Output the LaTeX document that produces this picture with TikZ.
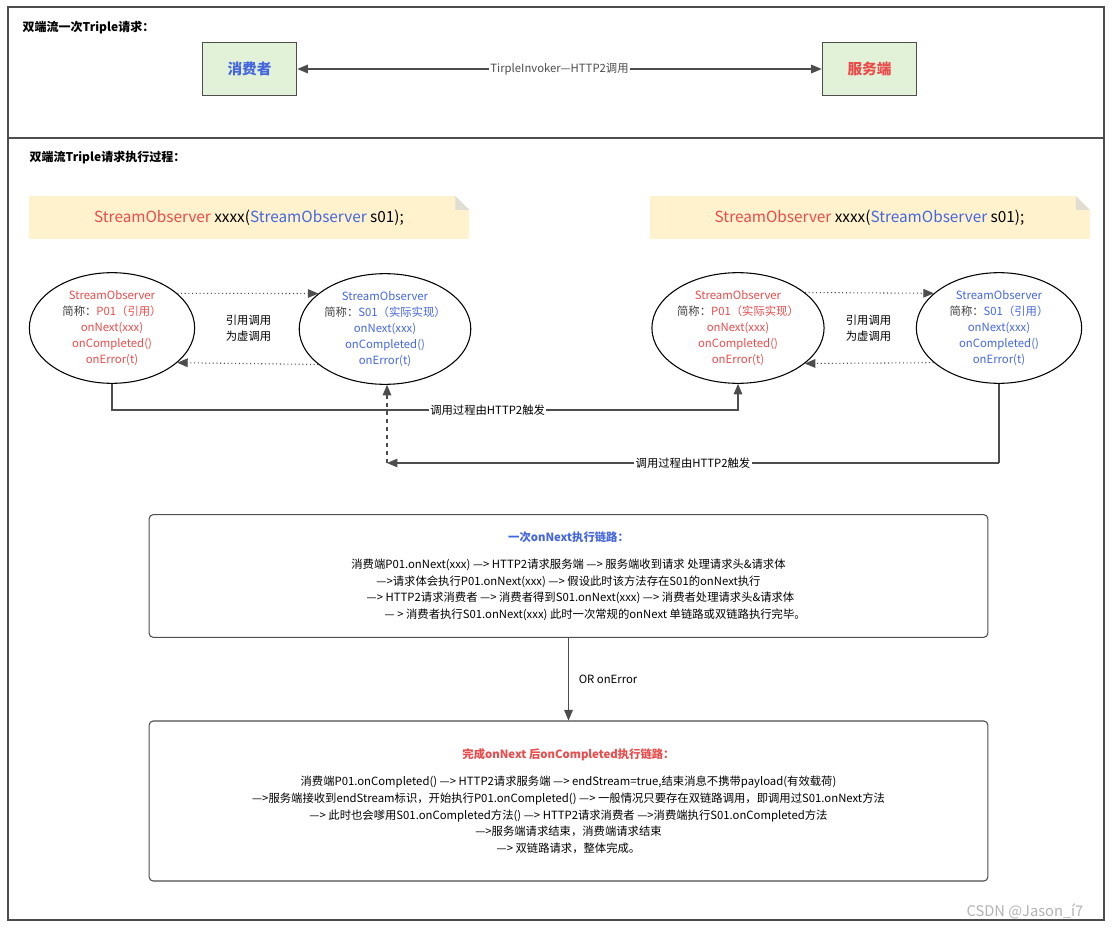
\documentclass[tikz,border=0pt]{standalone}
\usepackage{fontspec}
\setmainfont{Noto Sans CJK SC}
\usetikzlibrary{positioning,shapes,arrows,calc}
\definecolor{redtxt}{HTML}{EA4B4B}
\definecolor{bluetxt}{HTML}{4466E0}
\definecolor{linegray}{HTML}{4D4D4D}
\definecolor{notefill}{HTML}{FFF2CC}
\definecolor{greenfill}{HTML}{E2F2D8}
\tikzset{
  party/.style={
    % the boxes at the top
    rectangle, draw=linegray, fill=greenfill, thick,
    minimum width=71pt, minimum height=40pt, font=\bfseries\fontsize{11}{13}\selectfont},
  note/.style={
    shape=rectangle, fill=notefill, minimum width=330pt, minimum height=32pt,
    font=\fontsize{11.5}{13}\selectfont},
  observer/.style={
    ellipse, draw=black, thick, minimum width=124pt, minimum height=83pt,
    align=center, inner sep=0pt, font=\fontsize{8.5}{12}\selectfont},
  chain/.style={
    rectangle, rounded corners=3pt, draw=linegray, thick,
    minimum width=629pt, align=center, font=\fontsize{8.5}{12.5}\selectfont},
  lbl/.style={fill=white, inner sep=1pt, font=\fontsize{8.5}{11}\selectfont},
  flow/.style={draw=linegray, thick, -triangle 45}
}
\begin{document}
\begin{tikzpicture}[x=0.75pt,y=-0.75pt]
  \useasboundingbox (0,0) rectangle (1115,932);
  % frames
  \draw[linegray, thick] (8,7) rectangle (1104,920);
  \draw[linegray, thick] (8,138) -- (1104,138);
  \node[anchor=west, font=\bfseries\fontsize{9}{11}\selectfont] (title1) at (18,28) {双端流一次Triple请求：};
  \node[anchor=west, font=\bfseries\fontsize{9}{11}\selectfont] (title2) at (25,158) {双端流Triple请求执行过程：};

  % top part
  \node[party, text=bluetxt] (consumer) at (249.5,69) {消费者};
  \node[party, text=redtxt] (provider) at (869.5,69) {服务端};
  \draw[linegray, thick, triangle 45-triangle 45] (consumer) -- node[lbl] {TirpleInvoker---HTTP2调用} (provider);

  % notes
  \node[note] (noteL) at (249,217.5) {\textcolor{redtxt}{StreamObserver} xxxx(\textcolor{bluetxt}{StreamObserver} s01);};
  \node[note] (noteR) at (869.5,217.5) {\textcolor{redtxt}{StreamObserver} xxxx(\textcolor{bluetxt}{StreamObserver} s01);};
  \foreach \n in {noteL,noteR}
    \fill[white] (\n.north east) -- ++(-14,0) -- ++(14,14) -- cycle;
  \foreach \n in {noteL,noteR}
    \fill[notefill!70!black!40] (\n.north east) ++(-14,0) -- ++(0,14) -- ++(14,0) -- cycle;

  % observers
  \node[observer, text=redtxt] (p01L) at (112,328)
    {StreamObserver\\\textcolor{black!75}{简称：}P01（引用）\\onNext(xxx)\\onCompleted()\\onError(t)};
  \node[observer, text=bluetxt] (s01L) at (385,329)
    {StreamObserver\\\textcolor{black!75}{简称：}S01（实际实现）\\onNext(xxx)\\onCompleted()\\onError(t)};
  \node[observer, text=redtxt] (p01R) at (738,328)
    {StreamObserver\\\textcolor{black!75}{简称：}P01（实际实现）\\onNext(xxx)\\onCompleted()\\onError(t)};
  \node[observer, text=bluetxt] (s01R) at (999,328)
    {StreamObserver\\\textcolor{black!75}{简称：}S01（引用）\\onNext(xxx)\\onCompleted()\\onError(t)};

  \foreach \a/\b/\m in {p01L/s01L/refL, p01R/s01R/refR} {
    \draw[linegray, thick, dotted, -triangle 45] (\a.28) -- (\b.152);
    \draw[linegray, thick, dotted, -triangle 45] (\b.-152) -- (\a.-28);
    \node[font=\fontsize{8.5}{12}\selectfont, align=center] (\m) at ($(\a)!0.5!(\b)$) {引用调用\\为虚调用};
  }

  % HTTP2 triggered paths
  \coordinate (turnA) at (112,410);
  \coordinate (turnB) at (999,463);
  \coordinate (turnC) at (387,463);
  \draw[flow] (p01L.south) -- (turnA) -| node[lbl, pos=0.3] {调用过程由HTTP2触发} (p01R.south);
  \draw[draw=linegray, thick] (s01R.south) -- (turnB);
  \draw[flow] (turnB) -- node[lbl] {调用过程由HTTP2触发} (turnC);
  \draw[linegray, thick, dashed, -triangle 45] (turnC) -- (s01L.south -| turnC);

  % chains
  \node[chain, minimum height=92pt] (nextChain) at (568.5,576) {%
    \textcolor{bluetxt}{\bfseries 一次onNext执行链路：}\\[8pt]
    消费端P01.onNext(xxx) ---> HTTP2请求服务端 ---> 服务端收到请求 处理请求头\&请求体\\
    --->请求体会执行P01.onNext(xxx) ---> 假设此时该方法存在S01的onNext执行\hspace{28pt}\\
    \hspace{18pt}---> HTTP2请求消费者 ---> 消费者得到S01.onNext(xxx) ---> 消费者处理请求头\&请求体\\
    \hspace{40pt}--- > 消费者执行S01.onNext(xxx) 此时一次常规的onNext 单链路或双链路执行完毕。};
  \node[chain, minimum height=120pt] (completeChain) at (568.5,801) {%
    \textcolor{redtxt}{\bfseries 完成onNext 后onCompleted执行链路：}\\[8pt]
    消费端P01.onCompleted() ---> HTTP2请求服务端 ---> endStream=true,结束消息不携带payload(有效载荷)\\
    --->服务端接收到endStream标识，开始执行P01.onCompleted() ---> 一般情况只要存在双链路调用，即调用过S01.onNext方法\\
    ---> 此时也会嗲用S01.onCompleted方法() ---> HTTP2请求消费者 --->消费端执行S01.onCompleted方法\\
    --->服务端请求结束，消费端请求结束\\
    ---> 双链路请求，整体完成。};
  \draw[flow] (nextChain) -- node[right=4pt, font=\fontsize{8.5}{11}\selectfont] {OR onError} (completeChain);

  \node[text=black!30, font=\fontsize{11}{13}\selectfont] (mark) at (1025,911) {CSDN @Jason\_í7};
\end{tikzpicture}
\end{document}
